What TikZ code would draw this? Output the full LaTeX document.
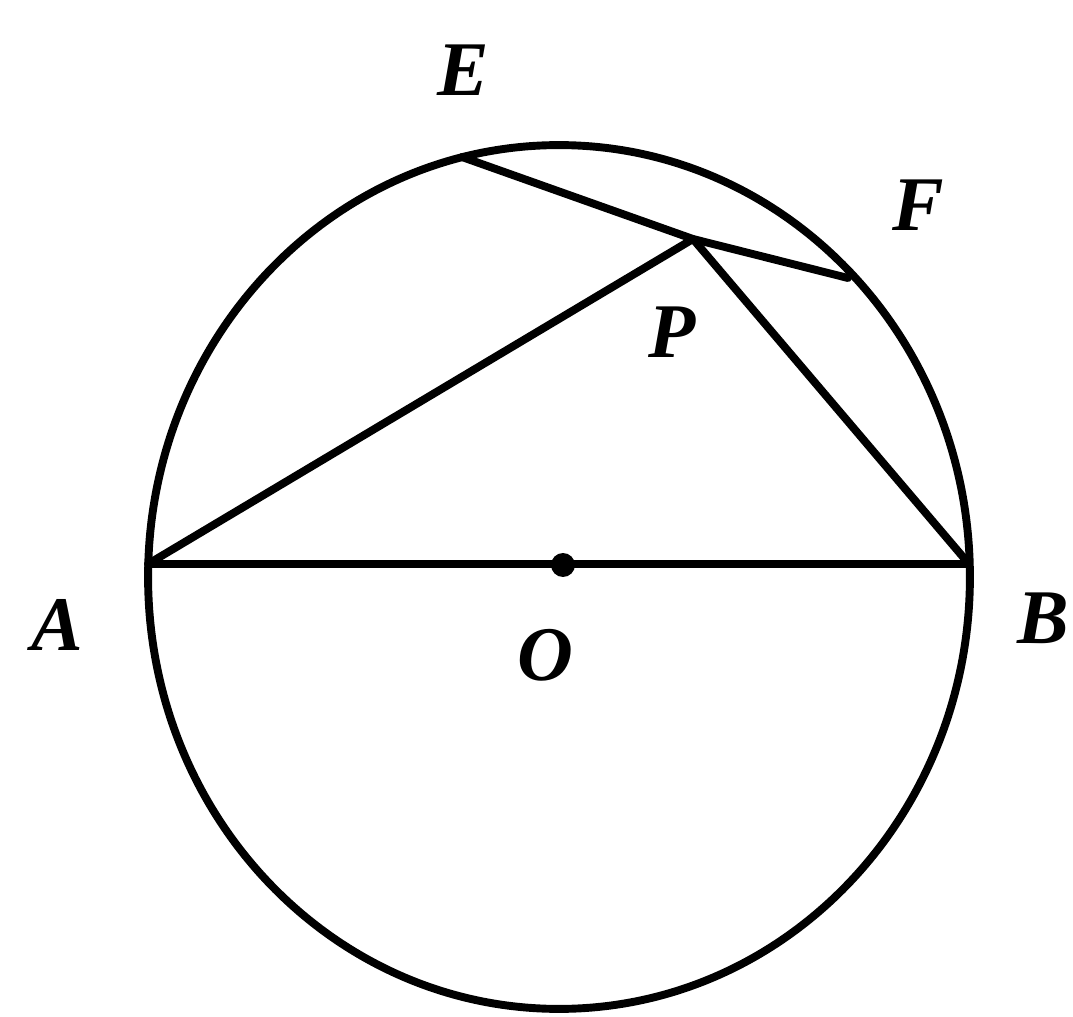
\documentclass[tikz,border=0pt]{standalone}
\usepackage{fontspec}
\setmainfont{Liberation Serif}
\usetikzlibrary{calc}
\begin{document}
\begin{tikzpicture}[x=0.02cm,y=-0.02cm,
  geo/.style={line width=4.5pt,line join=round,line cap=round},
  lbl/.style={font=\fontsize{44}{44}\selectfont\bfseries\itshape,inner sep=0pt}]
\useasboundingbox (0,0) rectangle (1073,1017);
\coordinate (O) at (563,565);
\coordinate (A) at (148,564);
\coordinate (B) at (969,564);
\coordinate (E) at (462,157);
\coordinate (F) at (848,278);
\coordinate (P) at (693,239);
\draw[geo] (559,577) ellipse [x radius=8.22cm, y radius=8.64cm];
\draw[geo] (A) -- (B);
\draw[geo] (E) -- (P) -- (F);
\draw[geo] (A) -- (P) -- (B);
\fill (O) circle [radius=0.24cm];
\node[lbl] (lE) at (463,70) {E};
\node[lbl] (lF) at (918,205) {F};
\node[lbl] (lP) at (672,332) {P};
\node[lbl] (lA) at (57,625) {A};
\node[lbl] (lB) at (1043,618) {B};
\node[lbl] (lO) at (545,655) {O};
\end{tikzpicture}
\end{document}
